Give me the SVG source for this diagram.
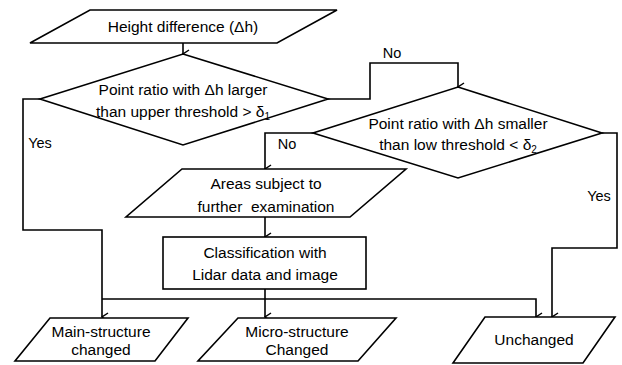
<svg xmlns="http://www.w3.org/2000/svg" width="622" height="365" viewBox="0 0 622 365">
<defs>
<style>
.s{fill:#fff;stroke:#000;stroke-width:1.6}
.c{fill:none;stroke:#000;stroke-width:1.6}
text{font-family:"Liberation Sans",Arial,sans-serif;font-size:15.5px;fill:#000;text-anchor:middle;white-space:pre}
.l{font-size:14.5px}
.sub{font-size:10px}
</style>
<marker id="a" markerWidth="10" markerHeight="10" refX="5" refY="9" orient="auto" markerUnits="userSpaceOnUse" viewBox="0 0 10 10">
<path d="M1,3 L5,9 L9,3" fill="none" stroke="#000" stroke-width="1.5"/>
</marker>
</defs>
<g id="connectors">
<path class="c" d="M183,43 V54" marker-end="url(#a)"/>
<path class="c" d="M40,99 H23 V230 H102 V317" marker-end="url(#a)"/>
<path class="c" d="M328,99 H370 V63 H458 V87" marker-end="url(#a)"/>
<path class="c" d="M313,133 H265 V169" marker-end="url(#a)"/>
<path class="c" d="M602,133 H617 V248 H552 V317" marker-end="url(#a)"/>
<path class="c" d="M265,217 V237" marker-end="url(#a)"/>
<path class="c" d="M265,289 V317" marker-end="url(#a)"/>
<path class="c" d="M102,299 H536 V317" marker-end="url(#a)"/>
<text class="l" x="392" y="58">No</text>
<text class="l" x="40" y="148">Yes</text>
<text class="l" x="287" y="149">No</text>
<text class="l" x="599" y="201">Yes</text>
</g>
<g id="n1">
<polygon class="s" points="90,10 337,10 277,43 30,43"/>
<text x="183" y="32">Height difference (Δh)</text>
</g>
<g id="n2">
<polygon class="s" points="183,54 328,99 183,145 40,99"/>
<text x="183" y="95">Point ratio with Δh larger</text>
<text x="183" y="117">than upper threshold &gt; δ<tspan class="sub" dy="3">1</tspan></text>
</g>
<g id="n3">
<polygon class="s" points="458,87 602,133 458,178 313,133"/>
<text x="458" y="129">Point ratio with Δh smaller</text>
<text x="458" y="150">than low threshold &lt; δ<tspan class="sub" dy="3">2</tspan></text>
</g>
<g id="n4">
<polygon class="s" points="182,169 406,169 350,217 126,217"/>
<text x="266" y="189">Areas subject to</text>
<text x="266" y="212">further  examination</text>
</g>
<g id="n5">
<rect class="s" x="163" y="237" width="203" height="52"/>
<text x="265" y="258">Classification with</text>
<text x="265" y="280">Lidar data and image</text>
</g>
<g id="n6">
<polygon class="s" points="50,318 188,318 155,361 15,361"/>
<text x="101" y="337">Main-structure</text>
<text x="101" y="355">changed</text>
</g>
<g id="n7">
<polygon class="s" points="238,318 396,318 358,361 198,361"/>
<text x="297" y="337">Micro-structure</text>
<text x="297" y="355">Changed</text>
</g>
<g id="n8">
<polygon class="s" points="485,317 615,317 583,363 453,363"/>
<text x="534" y="345">Unchanged</text>
</g>
</svg>
